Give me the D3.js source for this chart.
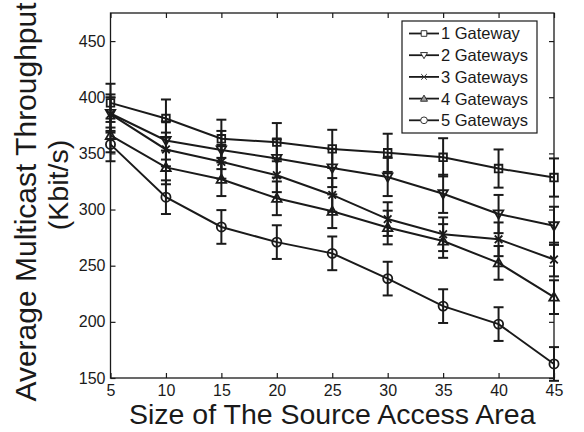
<!DOCTYPE html>
<html>
<head>
<meta charset="utf-8">
<script src="https://cdn.jsdelivr.net/npm/d3@7"></script>
<style>
html,body{margin:0;padding:0;background:#fff;}
svg{display:block;font-family:"Liberation Sans",Arial,Helvetica,sans-serif;}
</style>
</head>
<body>
<svg id="chart" width="584" height="432"></svg>
<script>
// ---- data ----
const xValues = [5, 10, 15, 20, 25, 30, 35, 40, 45];
const seriesNames = ["1 Gateway", "2 Gateways", "3 Gateways", "4 Gateways", "5 Gateways"];
const markers = ["square", "triangleDown", "x", "triangleUp", "circle"];
const gw1 = [395, 381, 363, 360, 354, 350.5, 346.5, 336.5, 328.5];
const gw2 = [385.5, 361.5, 353, 345.5, 337, 329, 314, 296, 285.5];
const gw3 = [385, 353.5, 342.5, 330.5, 313, 291.5, 278, 273.5, 255.5];
const gw4 = [366, 337.5, 327, 310, 298.5, 284, 272, 252.5, 222];
const gw5 = [358, 311, 284.5, 271, 261, 238.5, 214, 198, 162.5];
const err1 = [17, 17, 17, 17, 17, 17, 17, 17, 17];
const err2 = [17, 17, 17, 17, 17, 17, 17, 17, 17];
const err3 = [15, 15, 15, 15, 15, 15, 15, 15, 15];
const err4 = [15, 15, 15, 15, 15, 15, 15, 15, 15];
const err5 = [15, 15, 15, 15, 15, 15, 15, 15, 15];
const xTicks = [5, 10, 15, 20, 25, 30, 35, 40, 45];
const yTicks = [150, 200, 250, 300, 350, 400, 450];
const xDomain = [5, 45];
const yDomain = [150, 475];
const xTitle = "Size of The Source Access Area";
const yTitle1 = "Average Multicast Throughput";
const yTitle2 = "(Kbit/s)";

const values = [gw1, gw2, gw3, gw4, gw5];
const errors = [err1, err2, err3, err4, err5];

// ---- layout ----
const L = 110.5, R = 554, T = 13, B = 378;
const ink = "#1a1a1a";
const svg = d3.select("#chart");
const x = d3.scaleLinear().domain(xDomain).range([L, R]);
const y = d3.scaleLinear().domain(yDomain).range([B, T]);

function markerPath(type, s) {
  const p = d3.path();
  if (type === "square") {
    p.rect(-s, -s, 2 * s, 2 * s);
  } else if (type === "triangleUp") {
    const h = s * 1.25;
    p.moveTo(0, -h); p.lineTo(h, h * 0.75); p.lineTo(-h, h * 0.75); p.closePath();
  } else if (type === "triangleDown") {
    const h = s * 1.25;
    p.moveTo(0, h); p.lineTo(h, -h * 0.75); p.lineTo(-h, -h * 0.75); p.closePath();
  } else if (type === "x") {
    p.moveTo(-s, -s); p.lineTo(s, s); p.moveTo(s, -s); p.lineTo(-s, s);
  } else if (type === "circle") {
    p.moveTo(s * 1.2, 0); p.arc(0, 0, s * 1.2, 0, 2 * Math.PI);
  }
  return p.toString();
}

// axes box
svg.append("rect").attr("x", L).attr("y", T).attr("width", R - L).attr("height", B - T)
  .attr("fill", "none").attr("stroke", ink).attr("stroke-width", 1.3);

// ticks inward on all four sides
const tk = 5;
const gB = svg.append("g").attr("transform", `translate(0,${B})`)
  .call(d3.axisBottom(x).tickValues(xTicks).tickSizeInner(-tk).tickSizeOuter(0).tickPadding(7).tickFormat(d3.format("d")));
const gT = svg.append("g").attr("transform", `translate(0,${T})`)
  .call(d3.axisTop(x).tickValues(xTicks).tickSizeInner(-tk).tickSizeOuter(0).tickFormat(""));
const gL = svg.append("g").attr("transform", `translate(${L},0)`)
  .call(d3.axisLeft(y).tickValues(yTicks).tickSizeInner(-tk).tickSizeOuter(0).tickPadding(5).tickFormat(d3.format("d")));
const gR = svg.append("g").attr("transform", `translate(${R},0)`)
  .call(d3.axisRight(y).tickValues(yTicks).tickSizeInner(-tk).tickSizeOuter(0).tickFormat(""));
[gB, gT, gL, gR].forEach(g => {
  g.select(".domain").remove();
  g.selectAll(".tick line").attr("stroke", ink).attr("stroke-width", 1.2);
  g.selectAll("text").attr("fill", ink).attr("font-size", 16)
    .attr("font-family", "'Liberation Sans', Arial, sans-serif");
});

// error bars
const cap = 5;
values.forEach((vals, si) => {
  const g = svg.append("g").attr("stroke", ink).attr("stroke-width", 2).attr("fill", "none");
  vals.forEach((v, i) => {
    const e = errors[si][i];
    const cx = x(xValues[i]);
    const y0 = y(v - e), y1 = y(v + e);
    g.append("line").attr("x1", cx).attr("x2", cx).attr("y1", y0).attr("y2", y1);
    g.append("line").attr("x1", cx - cap).attr("x2", cx + cap).attr("y1", y0).attr("y2", y0);
    g.append("line").attr("x1", cx - cap).attr("x2", cx + cap).attr("y1", y1).attr("y2", y1);
  });
});

// lines
const line = d3.line().x((d, i) => x(xValues[i])).y(d => y(d));
values.forEach(vals => {
  svg.append("path").datum(vals).attr("d", line)
    .attr("fill", "none").attr("stroke", ink).attr("stroke-width", 2);
});

// markers
values.forEach((vals, si) => {
  svg.append("g").selectAll("path").data(vals).join("path")
    .attr("transform", (d, i) => `translate(${x(xValues[i])},${y(d)})`)
    .attr("d", markerPath(markers[si], 3.8))
    .attr("fill", "none").attr("stroke", ink).attr("stroke-width", 1.8);
});

// legend
const lg = svg.append("g");
const lx0 = 402, ly0 = 21, lw = 135, lh = 112;
lg.append("rect").attr("x", lx0).attr("y", ly0).attr("width", lw).attr("height", lh)
  .attr("fill", "#fff").attr("stroke", ink).attr("stroke-width", 1.2);
seriesNames.forEach((name, i) => {
  const cy = 33.5 + i * 21.7;
  lg.append("line").attr("x1", 409).attr("x2", 439).attr("y1", cy).attr("y2", cy)
    .attr("stroke", ink).attr("stroke-width", 1.8);
  lg.append("path").attr("transform", `translate(424,${cy})`)
    .attr("d", markerPath(markers[i], 2.8))
    .attr("fill", i === 3 ? "#999" : "#fff").attr("stroke", "#333").attr("stroke-width", 1);
  lg.append("text").attr("x", 441).attr("y", cy).attr("dy", "0.36em")
    .attr("font-size", 16.5).attr("fill", ink).text(name);
});

// axis titles
svg.append("text").attr("x", (L + R) / 2).attr("y", 424).attr("text-anchor", "middle")
  .attr("font-size", 28.5).attr("fill", ink).text(xTitle);
svg.append("text").attr("transform", "translate(36,202) rotate(-90)").attr("text-anchor", "middle")
  .attr("font-size", 30).attr("fill", ink).text(yTitle1);
svg.append("text").attr("transform", "translate(68,185) rotate(-90)").attr("text-anchor", "middle")
  .attr("font-size", 28.5).attr("fill", ink).text(yTitle2);
</script>
</body>
</html>
